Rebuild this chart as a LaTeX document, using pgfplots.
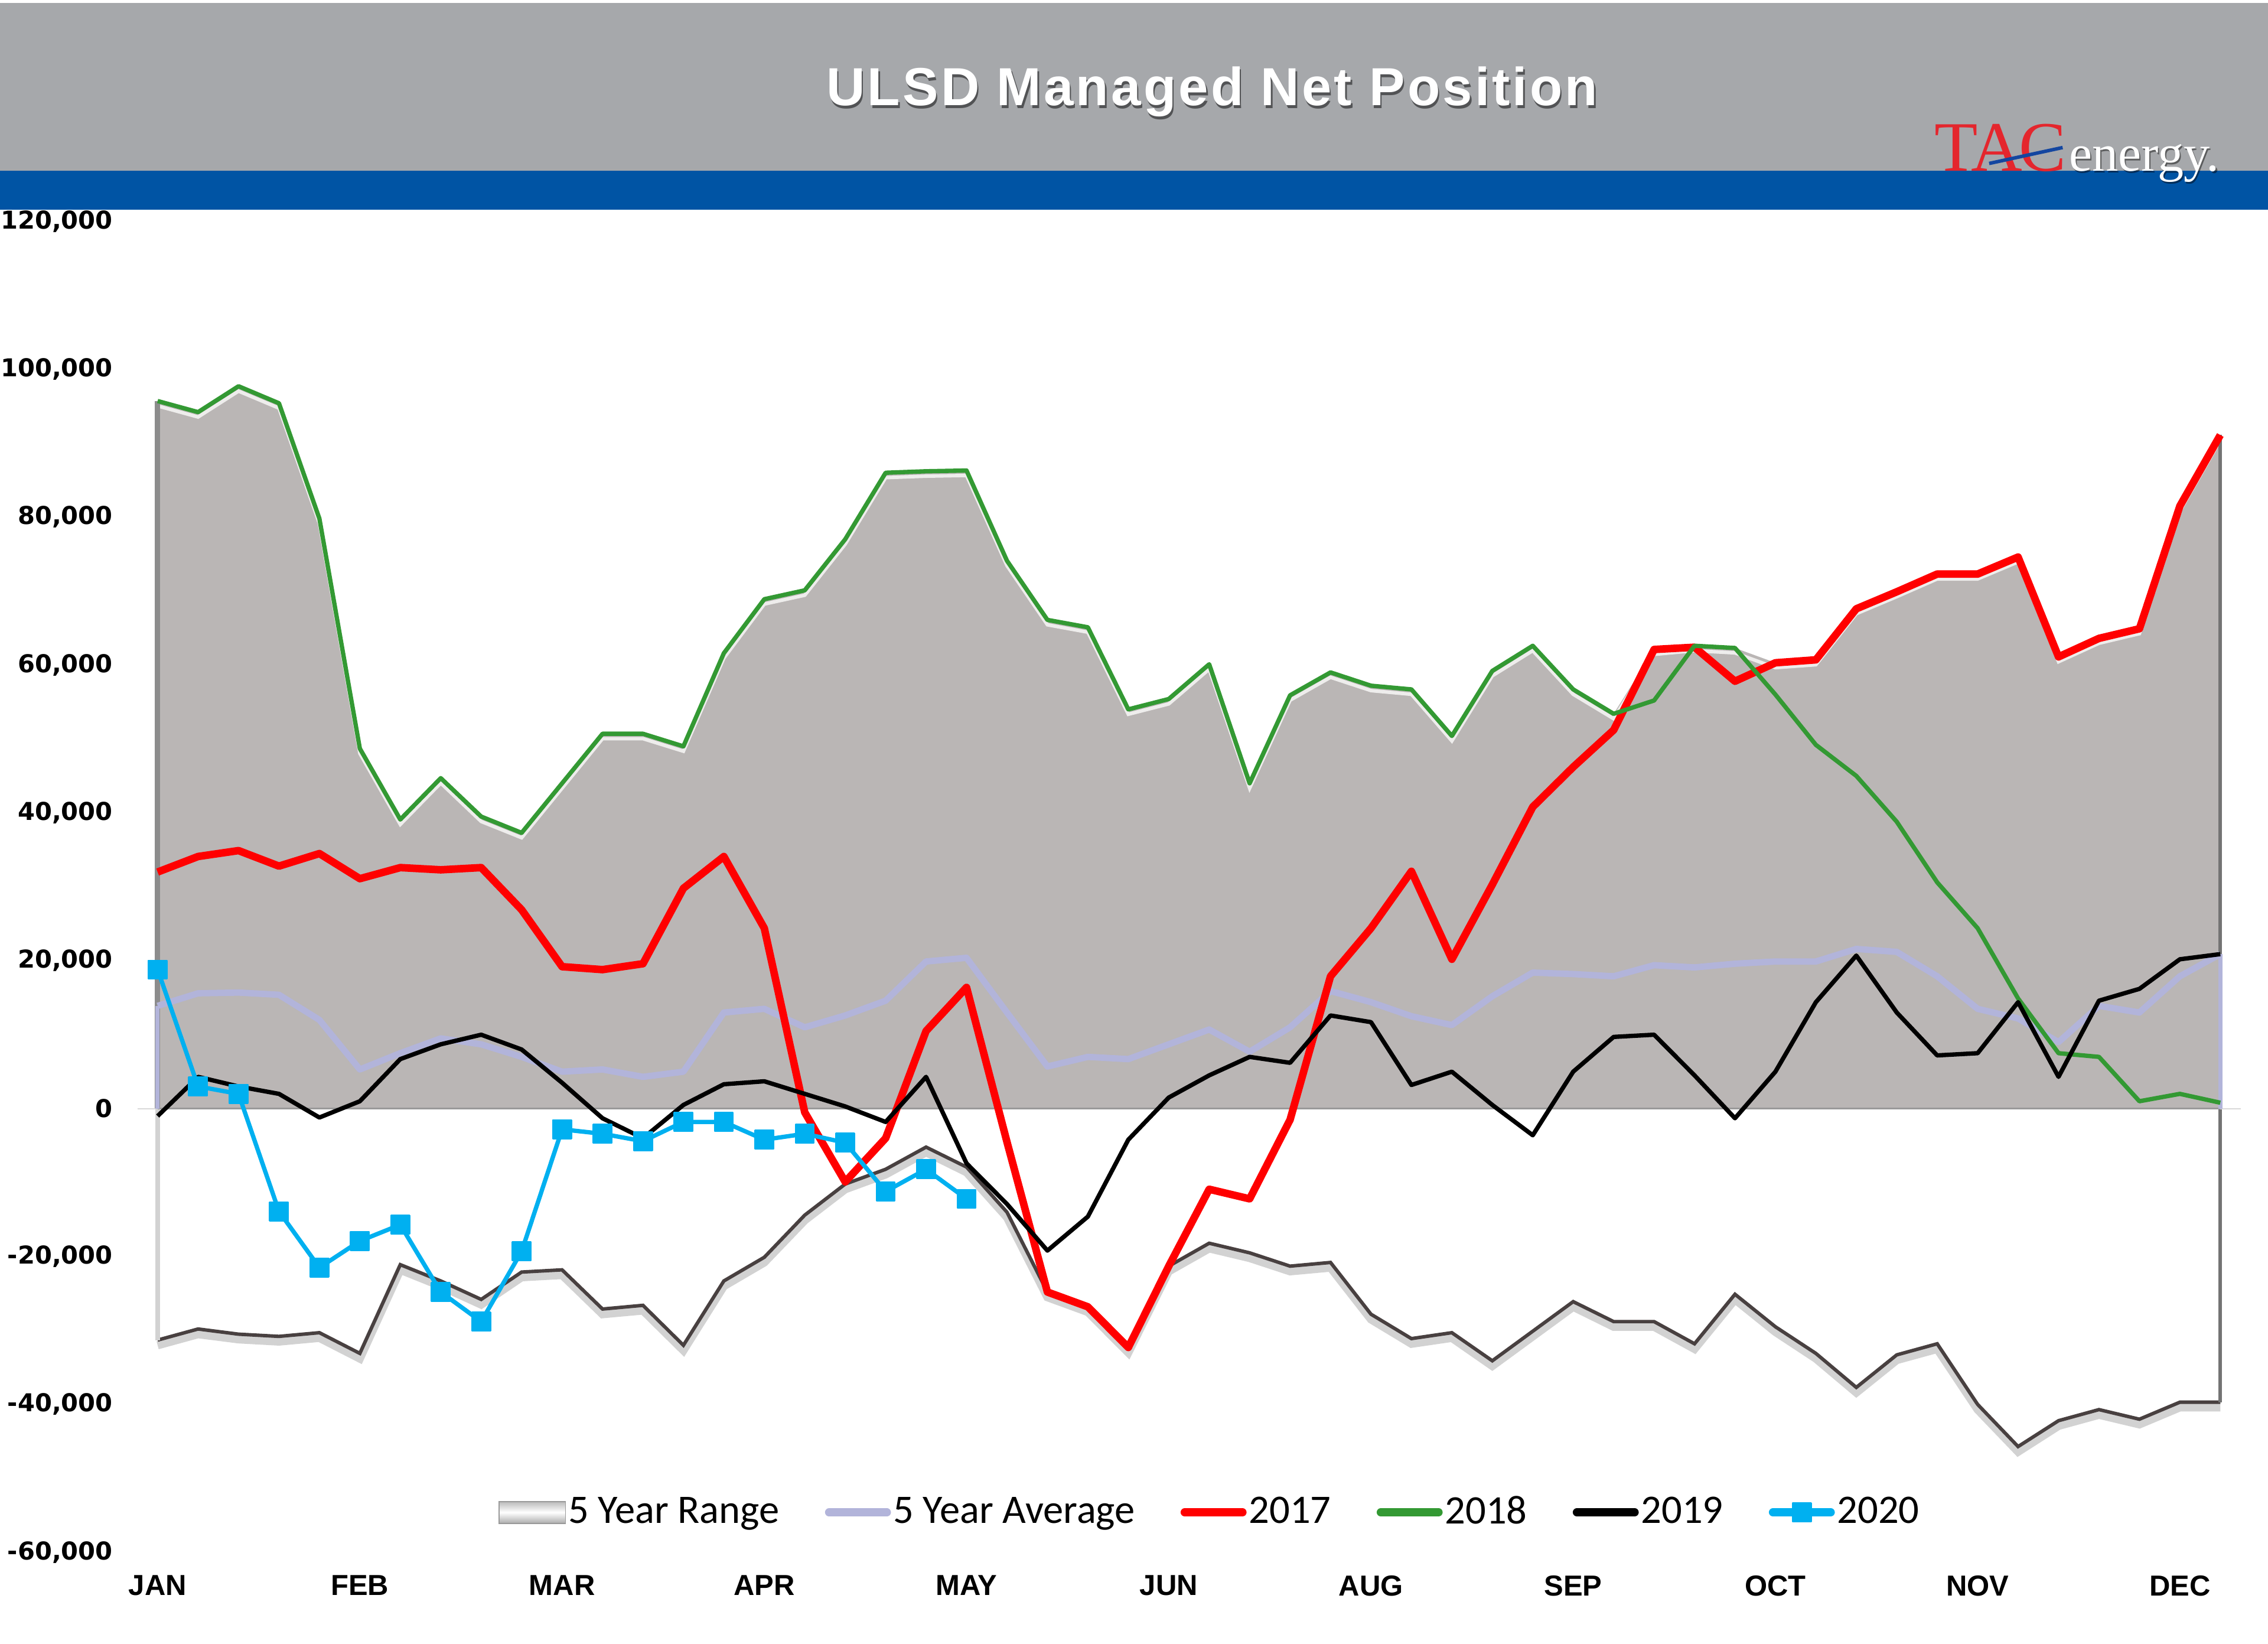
\documentclass[border=0pt]{standalone}
\usepackage{pgfplots}
\usepackage{pgfplotstable}
\pgfplotsset{compat=1.18}
\usepackage{fontspec}
\setmainfont{Liberation Sans}
\newfontfamily\seriffont{Liberation Serif}
\newfontfamily\tickfont{DejaVu Sans}
\newfontfamily\legfont{Carlito}
\newfontfamily\titlefont[LetterSpace=4.6]{Liberation Sans}
\definecolor{hdrgray}{RGB}{166,168,171}
\definecolor{hdrblue}{RGB}{0,84,164}
\definecolor{rangegray}{RGB}{186,182,181}
\definecolor{avgcol}{RGB}{178,180,218}
\definecolor{c2017}{RGB}{255,0,0}
\definecolor{c2018}{RGB}{51,153,51}
\definecolor{c2020}{RGB}{0,176,240}
\definecolor{lowline}{RGB}{72,64,64}
\definecolor{logored}{RGB}{228,38,45}
\definecolor{logoblue}{RGB}{20,70,160}

\pgfplotstableread{
i upper lower avg y2017 y2018 y2019
0 95700 -31300 13900 32000 95700 -1000
1 94200 -29800 15600 34100 94200 4300
2 97700 -30500 15700 34900 97700 3000
3 95400 -30800 15400 32800 95400 2000
4 79800 -30300 12000 34500 79800 -1200
5 48700 -33100 5300 31100 48700 1000
6 39100 -21100 7500 32600 39100 6700
7 44700 -23300 9500 32300 44700 8700
8 39500 -25800 8700 32600 39500 10000
9 37300 -22100 7000 26900 37300 8000
10 44000 -21800 5000 19200 44000 3500
11 50700 -27100 5300 18800 50700 -1300
12 50700 -26600 4300 19600 50700 -4000
13 49000 -32000 5000 29800 49000 500
14 61600 -23300 13000 34100 61600 3300
15 68900 -20100 13500 24400 68900 3700
16 70100 -14400 11000 -500 70100 2000
17 77000 -10200 12600 -9900 77000 300
18 86000 -8200 14600 -4000 86000 -1800
19 86200 -5200 19900 10500 86200 4300
20 86300 -7900 20400 16400 86300 -7400
21 74100 -14000 13000 -4500 74100 -12900
22 66100 -24800 5700 -24800 66100 -19200
23 65100 -26800 7000 -26800 65100 -14600
24 54000 -32300 6700 -32300 54000 -4200
25 55400 -21300 8700 -21300 55400 1500
26 60100 -18200 10700 -10900 60100 4500
27 44000 -19500 7700 -12200 44000 7000
28 55900 -21300 11000 -1500 55900 6200
29 59000 -20800 15900 17900 59000 12600
30 57200 -27800 14400 24400 57200 11700
31 56700 -31100 12500 32100 56700 3200
32 50400 -30300 11300 20200 50400 5000
33 59200 -34100 15200 30300 59200 500
34 62600 -30100 18400 40800 62600 -3600
35 56700 -26100 18200 46200 56700 5000
36 53400 -28800 17900 51200 53400 9700
37 62100 -28800 19400 62100 55200 10000
38 62600 -31800 19100 62400 62600 4500
39 62300 -25100 19600 57800 62300 -1300
40 60300 -29500 19900 60300 56000 5000
41 60700 -33100 19900 60700 49200 14400
42 67600 -37700 21600 67600 45000 20700
43 69900 -33300 21200 69900 38800 13000
44 72300 -31800 17900 72300 30600 7200
45 72300 -40000 13500 72300 24400 7500
46 74600 -45700 12200 74600 14900 14400
47 61100 -42200 9000 61100 7500 4300
48 63600 -40700 13900 63600 7000 14600
49 64900 -42000 13000 64900 1000 16200
50 81500 -39700 17900 81500 2000 20200
51 91100 -39700 20900 91100 800 20900
}\datatable

\pgfplotstableread{
i y2020
0 18800
1 3000
2 2000
3 -13900
4 -21500
5 -17900
6 -15700
7 -24800
8 -28800
9 -19300
10 -2800
11 -3400
12 -4400
13 -1800
14 -1800
15 -4200
16 -3400
17 -4600
18 -11200
19 -8200
20 -12200
}\datatwenty

\begin{document}
\begin{tikzpicture}[x=1pt,y=1pt]
\path[use as bounding box] (0,0) rectangle (784,568);
% header
\fill[hdrgray] (0,509) rectangle (784,567);
\fill[hdrblue] (0,495.5) rectangle (784,509);
% title with shadow
\node[anchor=base, font=\titlefont\fontsize{18.5}{22}\selectfont\bfseries, text=black, opacity=0.5] at (419.5,530.6) {ULSD Managed Net Position};
\node[anchor=base, font=\titlefont\fontsize{18.5}{22}\selectfont\bfseries, text=white] at (419,531.6) {ULSD Managed Net Position};
% logo
\node[anchor=base west, inner sep=0, font=\seriffont\fontsize{24.5}{25}\selectfont, text=logored] at (668.5,508.8) {T\kern-2.2pt A\kern-1.2pt C};
\draw[logoblue, line width=1.2pt] (687.6,511.5) -- (713,517);
\node[anchor=base west, inner sep=0, font=\seriffont\fontsize{18}{20}\selectfont, text=black, opacity=0.45] at (715.5,508.2) {energy.};
\node[anchor=base west, inner sep=0, font=\seriffont\fontsize{18}{20}\selectfont, text=white] at (715,508.8) {energy.};

\begin{axis}[
  at={(47.5pt,31.5pt)}, anchor=south west,
  scale only axis, width=727pt, height=460pt,
  xmin=-0.5, xmax=51.5, ymin=-60000, ymax=120000,
  axis line style={draw=none},
  tick style={draw=none},
  xtick={0,5,10,15,20,25,30,35,40,45,50},
  xticklabels={JAN,FEB,MAR,APR,MAY,JUN,AUG,SEP,OCT,NOV,DEC},
  xticklabel style={font=\bfseries\fontsize{10}{12}\selectfont, yshift=-4.5pt},
  ytick={-60000,-40000,-20000,0,20000,40000,60000,80000,100000,120000},
  yticklabels={{-60,000},{-40,000},{-20,000},{0},{20,000},{40,000},{60,000},{80,000},{100,000},{120,000}},
  scaled y ticks=false,
  yticklabel style={font=\tickfont\bfseries\fontsize{8.5}{10}\selectfont, xshift=-5pt},
  clip=false,
  legend columns=-1,
  legend style={at={(0.51,0.03)}, anchor=center, draw=none, fill=none,
    font=\legfont\fontsize{14}{16}\selectfont,
    nodes={inner sep=0.8pt},
    /tikz/every odd column/.append style={column sep=0pt},
    /tikz/every even column/.append style={column sep=15pt},
    inner sep=0pt},
  legend image code/.code={%
    \draw[mark repeat=2,mark phase=2,#1, line width=2.8pt, line cap=round]
      plot coordinates {(1.5pt,0pt) (11.5pt,0pt) (21.5pt,0pt)};},
]
% 5 year range
\addplot[draw=none, fill=rangegray, forget plot] table[x=i,y=upper] {\datatable} \closedcycle;
\addplot[white!75!rangegray, line width=1.2pt, yshift=-1.7pt, forget plot] table[x=i,y=upper] {\datatable};
\addplot[gray!35, line width=2.8pt, yshift=-1.8pt, forget plot] table[x=i,y=lower] {\datatable};
\addplot[lowline, line width=1.2pt, forget plot] table[x=i,y=lower] {\datatable};
\addplot[gray!35, line width=1.6pt, forget plot] coordinates {(0,0) (0,-31300)};
\addplot[black!45, line width=1.8pt, forget plot] coordinates {(0,0) (0,95700)};
\addplot[black!55, line width=1.2pt, forget plot] coordinates {(51,91100) (51,-39700)};
\addplot[gray!30, line width=0.5pt, forget plot] coordinates {(-0.5,0) (51.5,0)};
\addplot[black!40, line width=0.6pt, forget plot] coordinates {(0,0) (51,0)};
\addplot[avgcol, line width=1.4pt, forget plot] coordinates {(0,0) (0,13900)};
\addplot[avgcol, line width=1.4pt, forget plot] coordinates {(51,0) (51,20900)};
\addlegendimage{legend image code/.code={%
  \draw[draw=gray!80, top color=gray!55, bottom color=gray!65, middle color=white] (0pt,-3.8pt) rectangle (23pt,3.8pt);}}
\addlegendentry{5 Year Range}
% 5 year average
\addplot[avgcol, line width=2.2pt, line join=round] table[x=i,y=avg] {\datatable};
\addlegendentry{5 Year Average}
% 2017
\addplot[c2017, line width=2.6pt, line join=round] table[x=i,y=y2017] {\datatable};
\addlegendentry{2017}
% 2018
\addplot[c2018, line width=1.5pt, line join=round] table[x=i,y=y2018] {\datatable};
\addlegendentry{2018}
% 2019
\addplot[black, line width=1.5pt, line join=round] table[x=i,y=y2019] {\datatable};
\addlegendentry{2019}
% 2020
\addplot[c2020, line width=1.5pt, line join=round, mark=square*, mark size=3.2pt, mark options={solid, fill=c2020, draw=c2020, line width=0.5pt}] table[x=i,y=y2020] {\datatwenty};
\addlegendentry{2020}
\end{axis}
\end{tikzpicture}
\end{document}
